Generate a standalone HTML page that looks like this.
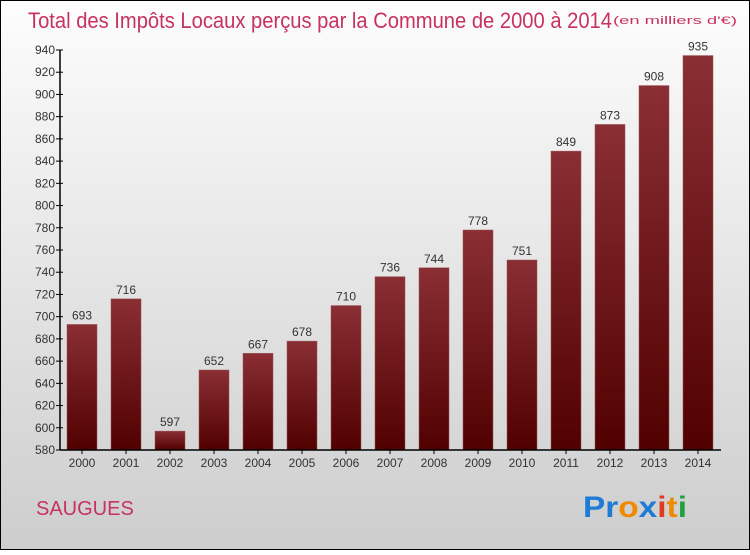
<!DOCTYPE html>
<html><head><meta charset="utf-8"><style>
body{margin:0;width:750px;height:550px;overflow:hidden;font-family:"Liberation Sans",sans-serif}
</style></head><body>
<svg id="c" width="750" height="550" xmlns="http://www.w3.org/2000/svg">
<defs>
<linearGradient id="bg" x1="0" y1="0" x2="0" y2="1"><stop offset="0" stop-color="#fdfdfd"/><stop offset="1" stop-color="#cdcdcd"/></linearGradient>
<linearGradient id="bar" x1="0" y1="0" x2="0" y2="1"><stop offset="0" stop-color="#8a2f34"/><stop offset="1" stop-color="#510000"/></linearGradient>
</defs>
<rect x="0.5" y="0.5" width="749" height="549" fill="url(#bg)" stroke="#000"/>
<text x="28" y="28" font-size="22" fill="#c8325f" textLength="584" lengthAdjust="spacingAndGlyphs">Total des Impôts Locaux perçus par la Commune de 2000 à 2014</text>
<text x="613" y="24" font-size="11" fill="#c8325f" textLength="124" lengthAdjust="spacingAndGlyphs">(en milliers d'€)</text>
<text x="36" y="515" font-size="20" fill="#c8325f">SAUGUES</text>
<text x="583" y="517" font-size="30" font-weight="bold" textLength="104" lengthAdjust="spacingAndGlyphs"><tspan fill="#1e7bd6">Pr</tspan><tspan fill="#f08a00">o</tspan><tspan fill="#1e7bd6">x</tspan><tspan fill="#e03a1e">i</tspan><tspan fill="#f08a00">t</tspan><tspan fill="#20a040">i</tspan></text>
<g id="plot"></g>
</svg>
<script>
const years=["2000","2001","2002","2003","2004","2005","2006","2007","2008","2009","2010","2011","2012","2013","2014"];
const values=[693,716,597,652,667,678,710,736,744,778,751,849,873,908,935];
const yTicks=[580,600,620,640,660,680,700,720,740,760,780,800,820,840,860,880,900,920,940];
const yMin=580,yMax=940,plotTop=50,plotBottom=450,plotLeft=60,plotRight=721;
const y=v=>plotBottom-(v-yMin)/(yMax-yMin)*(plotBottom-plotTop);
const x=i=>82+i*44;
const g=document.getElementById('plot'),NS="http://www.w3.org/2000/svg";
function mk(t,a){const e=document.createElementNS(NS,t);for(const k in a)e.setAttribute(k,a[k]);g.appendChild(e);return e;}
yTicks.forEach(t=>{
 const l=mk('line',{x1:plotLeft-4,x2:plotLeft+3,y1:y(t),y2:y(t),stroke:'#000'});
 
 
 const tx=mk('text',{x:plotLeft-5,y:y(t)+4,'text-anchor':'end','font-size':12,fill:'#333'});tx.textContent=t;
 
 
});
values.forEach((v,i)=>{
 const r=mk('rect',{x:x(i)-15,y:y(v),width:30,height:plotBottom-y(v),fill:'url(#bar)',stroke:'#9a5558','stroke-width':0.5});
 
 
 const vl=mk('text',{x:x(i),y:y(v)-5,'text-anchor':'middle','font-size':12,fill:'#333'});vl.textContent=v;
 
 
 const tk=mk('line',{x1:x(i),x2:x(i),y1:plotBottom,y2:plotBottom+4,stroke:'#000'});
 
 
 const xl=mk('text',{x:x(i),y:plotBottom+17,'text-anchor':'middle','font-size':12,fill:'#333'});xl.textContent=years[i];
 
 
});
const ya=mk('line',{x1:plotLeft,x2:plotLeft,y1:plotTop,y2:plotBottom,stroke:'#000','stroke-width':1.5});


const xa=mk('line',{x1:plotLeft,x2:plotRight,y1:plotBottom,y2:plotBottom,stroke:'#000','stroke-width':1.5});


</script>
</body></html>
